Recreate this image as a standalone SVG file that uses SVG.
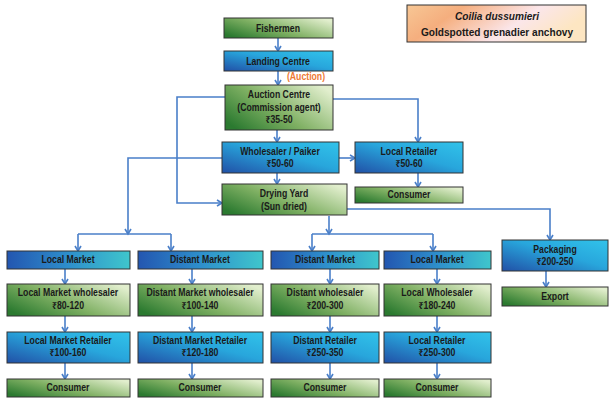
<svg xmlns="http://www.w3.org/2000/svg" width="609" height="400" viewBox="0 0 609 400">
<defs>
<linearGradient id="gG" x1="0" y1="0.8" x2="1" y2="0.2">
<stop offset="0" stop-color="#2b7a30"/><stop offset="0.45" stop-color="#7fb063"/><stop offset="1" stop-color="#e1eecd"/>
</linearGradient>
<linearGradient id="gB" x1="0" y1="1" x2="1" y2="0">
<stop offset="0" stop-color="#2150a6"/><stop offset="0.55" stop-color="#28a6dc"/><stop offset="1" stop-color="#31c3ea"/>
</linearGradient>
<linearGradient id="gM" x1="0" y1="0.5" x2="1" y2="0.5">
<stop offset="0" stop-color="#2356b0"/><stop offset="0.5" stop-color="#2e8fcc"/><stop offset="1" stop-color="#3fc6cc"/>
</linearGradient>
<linearGradient id="gT" x1="0" y1="0" x2="1" y2="0.3">
<stop offset="0" stop-color="#f7c795"/><stop offset="0.3" stop-color="#f5ae7e"/><stop offset="0.7" stop-color="#fbe6ea"/><stop offset="1" stop-color="#fde6c2"/>
</linearGradient>
<marker id="ah" markerWidth="8" markerHeight="8" refX="6" refY="4" orient="auto" markerUnits="userSpaceOnUse">
<path d="M1,1 L6,4 L1,7" fill="none" stroke="#4a7fc9" stroke-width="1.6"/>
</marker>
<style>
.bx{stroke:#333;stroke-width:1}
.g{fill:url(#gG)}
.b{fill:url(#gB)}
.m{fill:url(#gM)}
text{font-family:"Liberation Sans",Arial,"Noto Sans",sans-serif;font-weight:bold;font-size:10px;fill:#1a1a1a;text-anchor:middle}
.c{fill:none;stroke:#4a7fc9;stroke-width:1.6}
.a{marker-end:url(#ah)}
</style>
</defs>

<g id="title">
<rect class="bx" x="407" y="5" width="179" height="37" fill="url(#gT)"/>
<g transform="translate(497 0) scale(0.92 1)">
<text x="0" y="20" font-style="italic" style="font-size:11px">Coilia dussumieri</text>
<text x="0" y="36" style="font-size:11px">Goldspotted grenadier anchovy</text>
</g>
</g>

<g id="connectors">
<path class="c a" d="M278,38 V51"/>
<path class="c a" d="M278,71 V85"/>
<path class="c a" d="M277,130 V142"/>
<path class="c a" d="M277,173 V184"/>
<path class="c a" d="M225,97 H177 V203 H222"/>
<path class="c a" d="M333,99 H418 V142"/>
<path class="c a" d="M339,158 H355"/>
<path class="c a" d="M418,173 V187"/>
<path class="c a" d="M222,158 H128 V234"/>
<path class="c" d="M78,234 H171"/>
<path class="c a" d="M78,234 V251"/>
<path class="c a" d="M171,234 V251"/>
<path class="c a" d="M329,216 V234"/>
<path class="c" d="M312,234 H433"/>
<path class="c a" d="M312,234 V251"/>
<path class="c a" d="M433,234 V251"/>
<path class="c a" d="M347,209 H550 V240"/>
<path class="c a" d="M546,271 V287"/>
<path class="c a" d="M65,269 V284"/>
<path class="c a" d="M65,316 V332"/>
<path class="c a" d="M65,363 V379"/>
<path class="c a" d="M192,269 V284"/>
<path class="c a" d="M192,316 V332"/>
<path class="c a" d="M192,363 V379"/>
<path class="c a" d="M330,269 V284"/>
<path class="c a" d="M330,316 V332"/>
<path class="c a" d="M330,363 V379"/>
<path class="c a" d="M437,269 V284"/>
<path class="c a" d="M437,316 V332"/>
<path class="c a" d="M437,363 V379"/>
</g>

<g id="fishermen"><rect class="bx g" x="224" y="18" width="109" height="20"/><g transform="translate(278 0) scale(0.87 1)"><text x="0" y="32">Fishermen</text></g></g>
<g id="landing-centre"><rect class="bx b" x="224" y="51" width="109" height="20"/><g transform="translate(278 0) scale(0.87 1)"><text x="0" y="65">Landing Centre</text></g></g>
<g id="auction-label"><g transform="translate(306 0) scale(0.87 1)"><text x="0" y="80" style="fill:#ee7a34">(Auction)</text></g></g>
<g id="auction-centre"><rect class="bx g" x="225" y="85" width="108" height="45"/>
<g transform="translate(279 0) scale(0.87 1)"><text x="0" y="98">Auction Centre</text><text x="0" y="111">(Commission agent)</text><text x="0" y="123">₹35-50</text></g></g>
<g id="wholesaler-paiker"><rect class="bx b" x="222" y="142" width="117" height="31"/>
<g transform="translate(280 0) scale(0.87 1)"><text x="0" y="155">Wholesaler / Paiker</text><text x="0" y="167">₹50-60</text></g></g>
<g id="local-retailer"><rect class="bx b" x="355" y="142" width="108" height="31"/>
<g transform="translate(409 0) scale(0.87 1)"><text x="0" y="155">Local Retailer</text><text x="0" y="167">₹50-60</text></g></g>
<g id="consumer-0"><rect class="bx g" x="355" y="187" width="108" height="16"/><g transform="translate(409 0) scale(0.87 1)"><text x="0" y="198.5">Consumer</text></g></g>
<g id="drying-yard"><rect class="bx g" x="222" y="184" width="125" height="31"/>
<g transform="translate(284 0) scale(0.87 1)"><text x="0" y="197">Drying Yard</text><text x="0" y="210">(Sun dried)</text></g></g>

<g id="local-market-1"><rect class="bx m" x="7" y="251" width="123" height="18"/><g transform="translate(68 0) scale(0.87 1)"><text x="0" y="263.5">Local Market</text></g></g>
<g id="distant-market-2"><rect class="bx m" x="138" y="251" width="125" height="18"/><g transform="translate(200 0) scale(0.87 1)"><text x="0" y="263.5">Distant Market</text></g></g>
<g id="distant-market-3"><rect class="bx m" x="271" y="251" width="108" height="18"/><g transform="translate(325 0) scale(0.87 1)"><text x="0" y="263.5">Distant Market</text></g></g>
<g id="local-market-4"><rect class="bx m" x="384" y="251" width="107" height="18"/><g transform="translate(437 0) scale(0.87 1)"><text x="0" y="263.5">Local Market</text></g></g>

<g id="local-market-wholesaler"><rect class="bx g" x="7" y="284" width="123" height="32"/>
<g transform="translate(68 0) scale(0.87 1)"><text x="0" y="296.5">Local Market wholesaler</text><text x="0" y="309.5">₹80-120</text></g></g>
<g id="distant-market-wholesaler"><rect class="bx g" x="138" y="284" width="125" height="32"/>
<g transform="translate(200 0) scale(0.87 1)"><text x="0" y="296.5">Distant Market wholesaler</text><text x="0" y="309.5">₹100-140</text></g></g>
<g id="distant-wholesaler"><rect class="bx g" x="271" y="284" width="108" height="32"/>
<g transform="translate(325 0) scale(0.87 1)"><text x="0" y="296.5">Distant wholesaler</text><text x="0" y="309.5">₹200-300</text></g></g>
<g id="local-wholesaler"><rect class="bx g" x="384" y="284" width="107" height="32"/>
<g transform="translate(437 0) scale(0.87 1)"><text x="0" y="296.5">Local Wholesaler</text><text x="0" y="309.5">₹180-240</text></g></g>

<g id="local-market-retailer"><rect class="bx b" x="7" y="332" width="123" height="31"/>
<g transform="translate(68 0) scale(0.87 1)"><text x="0" y="344.5">Local Market Retailer</text><text x="0" y="356.5">₹100-160</text></g></g>
<g id="distant-market-retailer"><rect class="bx b" x="138" y="332" width="125" height="31"/>
<g transform="translate(200 0) scale(0.87 1)"><text x="0" y="344.5">Distant Market Retailer</text><text x="0" y="356.5">₹120-180</text></g></g>
<g id="distant-retailer"><rect class="bx b" x="271" y="332" width="108" height="31"/>
<g transform="translate(325 0) scale(0.87 1)"><text x="0" y="344.5">Distant Retailer</text><text x="0" y="356.5">₹250-350</text></g></g>
<g id="local-retailer-2"><rect class="bx b" x="384" y="332" width="107" height="31"/>
<g transform="translate(437 0) scale(0.87 1)"><text x="0" y="344.5">Local Retailer</text><text x="0" y="356.5">₹250-300</text></g></g>

<g id="consumer-1"><rect class="bx g" x="7" y="379" width="123" height="18"/><g transform="translate(68 0) scale(0.87 1)"><text x="0" y="391.5">Consumer</text></g></g>
<g id="consumer-2"><rect class="bx g" x="138" y="379" width="125" height="18"/><g transform="translate(200 0) scale(0.87 1)"><text x="0" y="391.5">Consumer</text></g></g>
<g id="consumer-3"><rect class="bx g" x="271" y="379" width="108" height="18"/><g transform="translate(325 0) scale(0.87 1)"><text x="0" y="391.5">Consumer</text></g></g>
<g id="consumer-4"><rect class="bx g" x="384" y="379" width="107" height="18"/><g transform="translate(437 0) scale(0.87 1)"><text x="0" y="391.5">Consumer</text></g></g>

<g id="packaging"><rect class="bx b" x="502" y="240" width="106" height="31"/>
<g transform="translate(555 0) scale(0.87 1)"><text x="0" y="253">Packaging</text><text x="0" y="265">₹200-250</text></g></g>
<g id="export"><rect class="bx g" x="502" y="287" width="106" height="19"/><g transform="translate(555 0) scale(0.87 1)"><text x="0" y="300">Export</text></g></g>
</svg>
